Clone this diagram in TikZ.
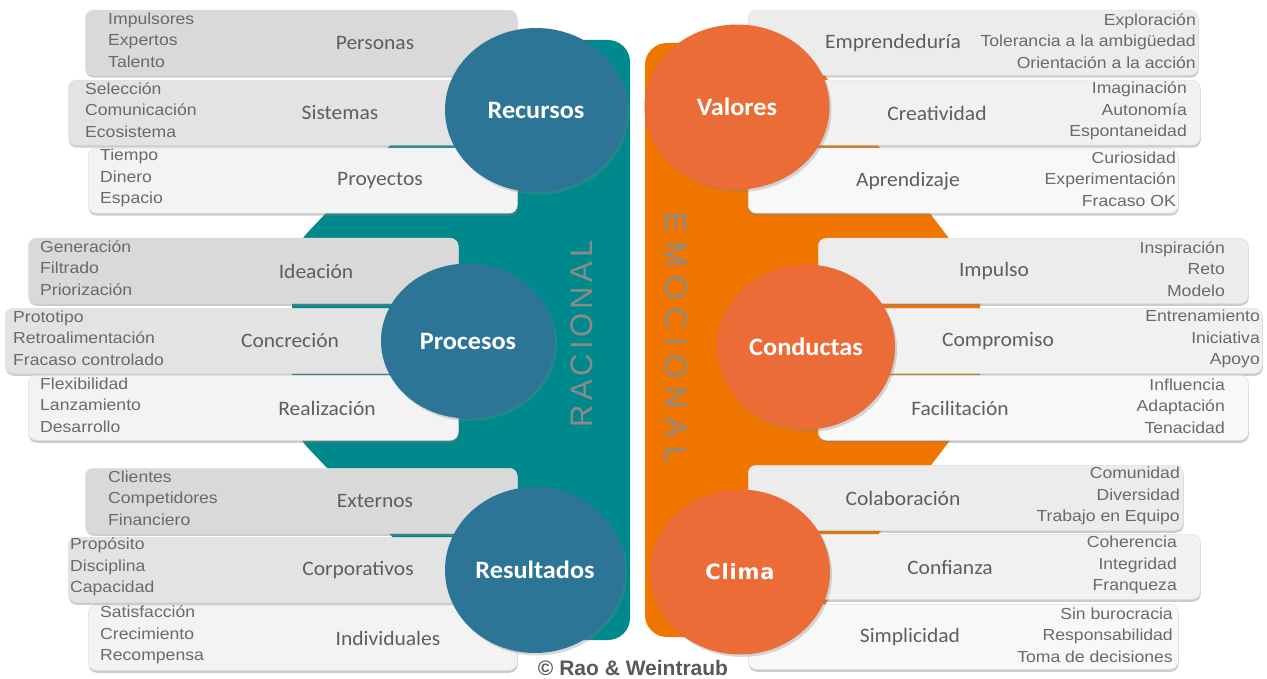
\documentclass[tikz,border=0pt]{standalone}
\usepackage{fontspec}
\setmainfont{Liberation Sans}
\newfontfamily\itemfont[FakeStretch=1.1]{Liberation Sans}
\newfontfamily\carlito[FakeStretch=1.05]{Carlito}
\newfontfamily\climafont[LetterSpace=4]{DejaVu Sans}
\newfontfamily\racfont[LetterSpace=13]{Liberation Sans}
\newfontfamily\emofont[LetterSpace=26]{Liberation Sans}
\usetikzlibrary{shapes.geometric,shadows,positioning}

\definecolor{tealband}{HTML}{00898C}
\definecolor{orangeband}{HTML}{F07600}
\definecolor{hubblue}{HTML}{2C7596}
\definecolor{huborange}{HTML}{EC6C37}
\definecolor{itemgray}{HTML}{6A6A6A}
\definecolor{labgray}{HTML}{5E5E5E}
\definecolor{bandtext}{HTML}{8A8A8A}
\definecolor{boxA}{HTML}{D9D9D9}
\definecolor{boxB}{HTML}{E3E3E3}
\definecolor{boxC}{HTML}{F3F3F3}
\definecolor{boxD}{HTML}{ECECEC}
\definecolor{boxE}{HTML}{F1F1F1}
\definecolor{boxF}{HTML}{F8F8F8}

\tikzset{
  panel/.style={rectangle, rounded corners=8pt, draw=black!12, line width=0.5pt,
    minimum height=65, anchor=north west, inner sep=0pt,
    drop shadow={shadow xshift=0.5pt, shadow yshift=-2.5pt, opacity=0.4}},
  items/.style={font=\itemfont\fontsize{16}{21.5}\selectfont, text=itemgray, align=left, inner sep=0pt},
  itemsR/.style={items, align=right},
  lab/.style={font=\carlito\fontsize{20.5}{24}\selectfont, text=labgray, inner sep=0pt},
  hub/.style={ellipse, inner sep=0pt, text=white,
    font=\carlito\bfseries\fontsize{25}{30}\selectfont,
    drop shadow={shadow xshift=2pt, shadow yshift=-2.5pt, opacity=0.3}},
  bandlabel/.style={text=bandtext, inner sep=0pt}
}

\begin{document}
\begin{tikzpicture}[x=1pt, y=-1pt]
\useasboundingbox (0,0) rectangle (1267,679);

% === Bands ===
\fill[tealband, rounded corners=22pt] (630,40) -- (490,40) -- (292,249)
  -- (292,431) -- (490,640) -- (630,640) -- cycle;
\fill[orangeband, rounded corners=22pt] (645,43) -- (800,43) -- (980,279)
  -- (980,401) -- (800,637) -- (645,637) -- cycle;

\node[bandlabel, rotate=90, font=\racfont\fontsize{31}{31}\selectfont] (racional) at (582,334) {RACIONAL};
\node[bandlabel, rotate=-90, font=\emofont\fontsize{31}{31}\selectfont] (emocional) at (676,338) {EMOCIONAL};

% === Left panels ===
\foreach \nm/\xl/\yt/\w/\shade/\ix/\items/\lx/\lab in {
  personas/85/10/432/boxA/108/{Impulsores\\Expertos\\Talento}/375/Personas,
  sistemas/68/80/402/boxB/85/{Selección\\Comunicación\\Ecosistema}/340/Sistemas,
  proyectos/88/148/429/boxC/100/{Tiempo\\Dinero\\Espacio}/380/Proyectos,
  ideacion/28/238/430/boxA/40/{Generación\\Filtrado\\Priorización}/316/Ideación,
  concrecion/5/308/400/boxB/13/{Prototipo\\Retroalimentación\\Fracaso controlado}/290/Concreción,
  realizacion/28/375/430/boxC/40/{Flexibilidad\\Lanzamiento\\Desarrollo}/327/Realización,
  externos/85/468/432/boxA/108/{Clientes\\Competidores\\Financiero}/375/Externos,
  corporativos/68/537/402/boxB/70/{Propósito\\Disciplina\\Capacidad}/358/Corporativos,
  individuales/88/605/429/boxC/100/{Satisfacción\\Crecimiento\\Recompensa}/388/Individuales}{
  \node[panel, fill=\shade, minimum width=\w] (\nm) at (\xl,\yt) {};
  \node[items, anchor=west] (\nm-items) at (\ix,\yt+30) {\items};
  \node[lab] (\nm-lab) at (\lx,\yt+33) {\lab};
}

% === Right panels ===
\foreach \nm/\xl/\yt/\w/\shade/\ix/\items/\lx/\lab in {
  emprendeduria/748/10/450/boxD/1196/{Exploración\\Tolerancia a la ambigüedad\\Orientación a la acción}/893/Emprendeduría,
  creatividad/790/80/410/boxE/1187/{Imaginación\\Autonomía\\Espontaneidad}/937/Creatividad,
  aprendizaje/748/148/430/boxF/1176/{Curiosidad\\Experimentación\\Fracaso OK}/908/Aprendizaje,
  impulso/818/238/430/boxD/1225/{Inspiración\\Reto\\Modelo}/994/Impulso,
  compromiso/870/308/392/boxE/1260/{Entrenamiento\\Iniciativa\\Apoyo}/998/Compromiso,
  facilitacion/818/375/430/boxF/1225/{Influencia\\Adaptación\\Tenacidad}/960/Facilitación,
  colaboracion/748/465/435/boxD/1180/{Comunidad\\Diversidad\\Trabajo en Equipo}/903/Colaboración,
  confianza/790/534/410/boxE/1177/{Coherencia\\Integridad\\Franqueza}/950/Confianza,
  simplicidad/748/604/430/boxF/1173/{Sin burocracia\\Responsabilidad\\Toma de decisiones}/910/Simplicidad}{
  \node[panel, fill=\shade, minimum width=\w] (\nm) at (\xl,\yt) {};
  \node[itemsR, anchor=east] (\nm-items) at (\ix,\yt+31) {\items};
  \node[lab] (\nm-lab) at (\lx,\yt+33) {\lab};
}

% === Hubs ===
\node[hub, fill=hubblue, minimum width=182, minimum height=164] (recursos) at (536,110) {Recursos};
\node[hub, fill=hubblue, minimum width=174, minimum height=155] (procesos) at (468,341) {Procesos};
\node[hub, fill=hubblue, minimum width=180, minimum height=166] (resultados) at (535,570) {Resultados};
\node[hub, fill=huborange, minimum width=185, minimum height=165] (valores) at (737,107) {Valores};
\node[hub, fill=huborange, minimum width=178, minimum height=165] (conductas) at (806,347) {Conductas};
\node[hub, fill=huborange, minimum width=180, minimum height=165,
  font=\climafont\bfseries\fontsize{21}{24}\selectfont] (clima) at (740,572) {Clima};

% === Credit ===
\node[font=\bfseries\fontsize{21}{22}\selectfont, text=black!65, inner sep=0pt] (credit) at (633,668) {© Rao \& Weintraub};
\end{tikzpicture}
\end{document}
